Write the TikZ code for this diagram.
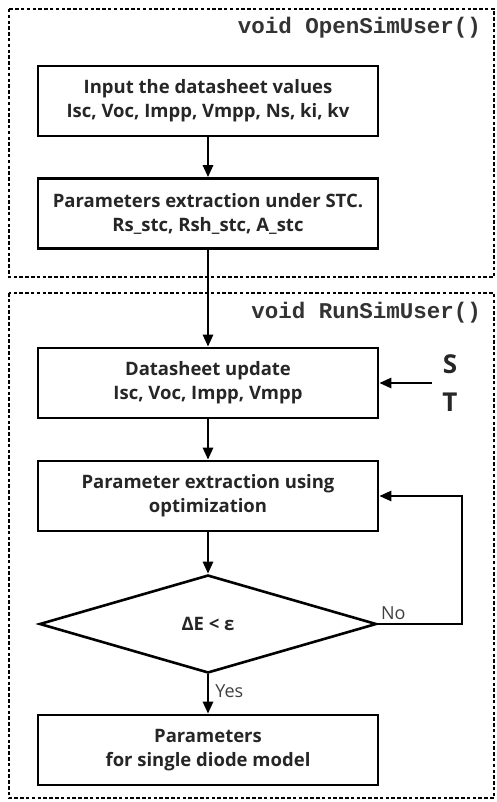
\documentclass[tikz,border=0pt]{standalone}
\usepackage{fontspec}
\setmainfont{Open Sans}
\setmonofont{Liberation Mono}
\usetikzlibrary{arrows.meta,shapes.geometric}
\tikzset{
  stepbox/.style={draw, line width=2.6pt, minimum width=340pt, minimum height=70pt, align=center, inner sep=0pt, font=\fontsize{18.5}{24}\selectfont\bfseries, text=black!85},
  decision/.style={draw, diamond, line width=2.6pt, minimum width=337pt, minimum height=98pt, inner sep=0pt, font=\fontsize{18.5}{24}\selectfont\bfseries, text=black!85},
  flow/.style={line width=2.6pt, -{Triangle[length=12pt,width=10pt]}},
  frame/.style={line width=2.6pt, dash pattern=on 3.5pt off 2.3pt},
  funclabel/.style={font=\fontsize{22.5}{24}\selectfont\ttfamily\bfseries, text=black!80, inner sep=0pt, anchor=east},
  small/.style={font=\fontsize{18}{20}\selectfont, text=black!75, inner sep=0pt}
}
\begin{document}
\begin{tikzpicture}[x=1pt,y=-1pt]
\useasboundingbox (0,0) rectangle (497,802);
\fill[white] (0,0) rectangle (497,802);
\draw[frame] (9,9) rectangle (494,277);
\draw[frame] (9,293) rectangle (494,798);
\node[funclabel] (f1) at (481,28) {void OpenSimUser()};
\node[funclabel] (f2) at (481,313) {void RunSimUser()};

\node[stepbox] (b1) at (208,101) {Input the datasheet values\\Isc, Voc, Impp, Vmpp, Ns, ki, kv};
\node[stepbox] (b2) at (208,213.5) {Parameters extraction under STC.\\Rs\_stc, Rsh\_stc, A\_stc};
\node[stepbox] (b3) at (208,383) {Datasheet update\\Isc, Voc, Impp, Vmpp};
\node[stepbox] (b4) at (208,496) {Parameter extraction using\\optimization};
\node[decision] (d) at (208,624) {ΔE < ε};
\node[stepbox] (b5) at (208,750) {Parameters\\for single diode model};

\node[font=\fontsize{26}{26}\selectfont\bfseries, text=black!85, inner sep=0pt] (S) at (450,364) {S};
\node[font=\fontsize{26}{26}\selectfont\bfseries, text=black!85, inner sep=0pt] (T) at (450,402) {T};
\coordinate (st) at (432,383);
\coordinate (loop) at (462,624);

\draw[flow] (b1) -- (b2);
\draw[flow] (b2) -- (b3);
\draw[flow] (b3) -- (b4);
\draw[flow] (b4) -- (d);
\draw[flow] (d) -- (b5) node[small, pos=0.42, anchor=west, xshift=6pt] {Yes};
\draw[flow] (st) -- (b3.east);
\draw[flow] (d.east) -- (loop) |- (b4.east);
\node[small, anchor=south west] (no) at ([xshift=3pt,yshift=4pt]d.east) {No};
\end{tikzpicture}
\end{document}
